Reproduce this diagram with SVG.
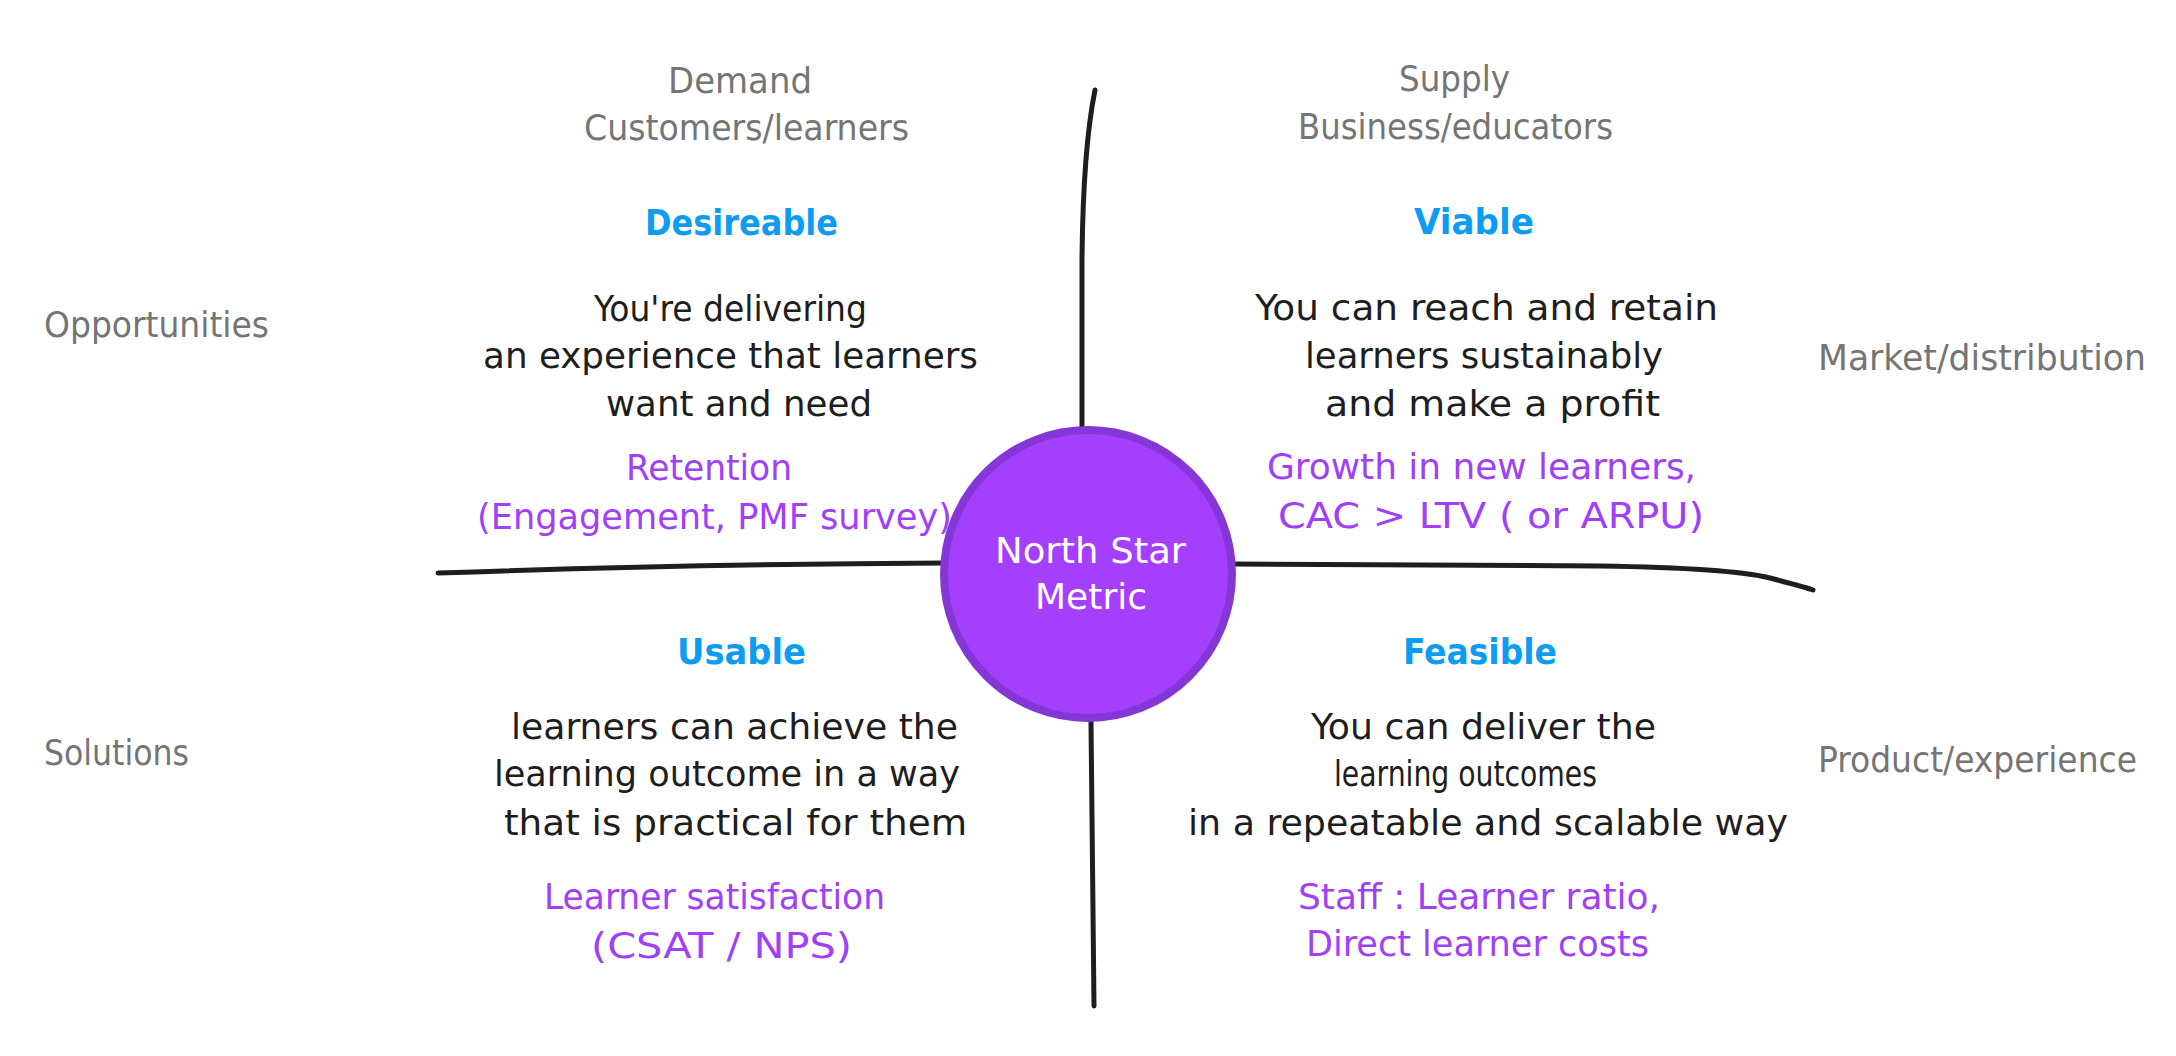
<svg xmlns="http://www.w3.org/2000/svg" width="2176" height="1056" viewBox="0 0 2176 1056">
<style>
text{font-family:"Liberation Sans Narrow","DejaVu Sans Condensed","Liberation Sans",sans-serif;font-size:36px}
.g{fill:#757575}
.t{fill:#0d9cf2;font-weight:bold}
.b{fill:#1e1e1e}
.p{fill:#a040f8}
.w{fill:#ffffff}
.ax{fill:none;stroke:#1e1e1e;stroke-width:5;stroke-linecap:round;stroke-linejoin:round}
</style>
<rect width="2176" height="1056" fill="#ffffff"/>
<g id="connectors">
<path class="ax" d="M1095,90 Q1083,150 1082,260 L1082,427"/>
<path class="ax" d="M1091,722 L1094,1006"/>
<path class="ax" d="M438,573 Q700,564 944,563"/>
<path class="ax" d="M1234,564 L1600,566 Q1730,568 1770,578 Q1808,588 1813,590"/>
</g>
<g id="label-demand">
<text class="g" x="668" y="93" textLength="144" lengthAdjust="spacingAndGlyphs">Demand</text>
<text class="g" x="584" y="140" textLength="325" lengthAdjust="spacingAndGlyphs">Customers/learners</text>
</g>
<g id="label-supply">
<text class="g" x="1399" y="91" textLength="111" lengthAdjust="spacingAndGlyphs">Supply</text>
<text class="g" x="1298" y="139" textLength="315" lengthAdjust="spacingAndGlyphs">Business/educators</text>
</g>
<g id="label-opportunities">
<text class="g" x="44" y="337" textLength="225" lengthAdjust="spacingAndGlyphs">Opportunities</text>
</g>
<g id="label-market">
<text class="g" x="1818" y="370" textLength="328" lengthAdjust="spacingAndGlyphs">Market/distribution</text>
</g>
<g id="label-solutions">
<text class="g" x="44" y="765" textLength="145" lengthAdjust="spacingAndGlyphs">Solutions</text>
</g>
<g id="label-product">
<text class="g" x="1818" y="772" textLength="319" lengthAdjust="spacingAndGlyphs">Product/experience</text>
</g>
<g id="desireable">
<text class="t" x="645" y="235" textLength="193" lengthAdjust="spacingAndGlyphs">Desireable</text>
<text class="b" x="594" y="321" textLength="273" lengthAdjust="spacingAndGlyphs">You're delivering</text>
<text class="b" x="483" y="368" textLength="495" lengthAdjust="spacingAndGlyphs">an experience that learners</text>
<text class="b" x="606" y="416" textLength="266" lengthAdjust="spacingAndGlyphs">want and need</text>
<text class="p" x="626" y="480" textLength="166" lengthAdjust="spacingAndGlyphs">Retention</text>
<text class="p" x="477" y="529" textLength="475" lengthAdjust="spacingAndGlyphs">(Engagement, PMF survey)</text>
</g>
<g id="viable">
<text class="t" x="1414" y="234" textLength="120" lengthAdjust="spacingAndGlyphs">Viable</text>
<text class="b" x="1255" y="320" textLength="463" lengthAdjust="spacingAndGlyphs">You can reach and retain</text>
<text class="b" x="1305" y="368" textLength="358" lengthAdjust="spacingAndGlyphs">learners sustainably</text>
<text class="b" x="1325" y="416" textLength="335" lengthAdjust="spacingAndGlyphs">and make a profit</text>
<text class="p" x="1267" y="479" textLength="429" lengthAdjust="spacingAndGlyphs">Growth in new learners,</text>
<text class="p" x="1278" y="528" textLength="426" lengthAdjust="spacingAndGlyphs">CAC &gt; LTV ( or ARPU)</text>
</g>
<g id="usable">
<text class="t" x="677" y="664" textLength="129" lengthAdjust="spacingAndGlyphs">Usable</text>
<text class="b" x="511" y="739" textLength="447" lengthAdjust="spacingAndGlyphs">learners can achieve the</text>
<text class="b" x="494" y="786" textLength="466" lengthAdjust="spacingAndGlyphs">learning outcome in a way</text>
<text class="b" x="504" y="835" textLength="463" lengthAdjust="spacingAndGlyphs">that is practical for them</text>
<text class="p" x="544" y="909" textLength="341" lengthAdjust="spacingAndGlyphs">Learner satisfaction</text>
<text class="p" x="591" y="958" textLength="261" lengthAdjust="spacingAndGlyphs">(CSAT / NPS)</text>
</g>
<g id="feasible">
<text class="t" x="1403" y="664" textLength="154" lengthAdjust="spacingAndGlyphs">Feasible</text>
<text class="b" x="1311" y="739" textLength="345" lengthAdjust="spacingAndGlyphs">You can deliver the</text>
<text class="b" x="1334" y="786" textLength="263" lengthAdjust="spacingAndGlyphs">learning outcomes</text>
<text class="b" x="1188" y="835" textLength="600" lengthAdjust="spacingAndGlyphs">in a repeatable and scalable way</text>
<text class="p" x="1298" y="909" textLength="362" lengthAdjust="spacingAndGlyphs">Staff : Learner ratio,</text>
<text class="p" x="1306" y="956" textLength="343" lengthAdjust="spacingAndGlyphs">Direct learner costs</text>
</g>
<g id="north-star-metric">
<circle cx="1088" cy="574" r="144" fill="#a33ffd" stroke="#8437d6" stroke-width="8"/>
<text class="w" x="995" y="563" textLength="191" lengthAdjust="spacingAndGlyphs">North Star</text>
<text class="w" x="1035" y="609" textLength="112" lengthAdjust="spacingAndGlyphs">Metric</text>
</g>
</svg>
